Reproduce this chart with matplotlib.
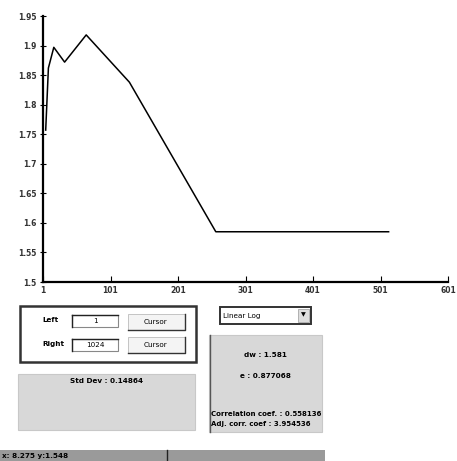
import matplotlib
matplotlib.use("Agg")
import matplotlib.pyplot as plt
from matplotlib.patches import Rectangle

# curve samples (x position, value)
xs = [5, 9, 17, 33, 65, 129, 257, 513]
ys = [1.757, 1.862, 1.897, 1.872, 1.918, 1.838, 1.585, 1.585]

xticks = [1, 101, 201, 301, 401, 501, 601]
yticks = [1.5, 1.55, 1.6, 1.65, 1.7, 1.75, 1.8, 1.85, 1.9, 1.95]
ytick_labels = ["1.5", "1.55", "1.6", "1.65", "1.7", "1.75", "1.8", "1.85", "1.9", "1.95"]

left_val = "1"
right_val = "1024"
std_text = "Std Dev : 0.14864"
scale_choice = "Linear Log"
dw_text = "dw : 1.581"
e_text = "e : 0.877068"
corr_text = "Correlation coef. : 0.558136"
adj_text = "Adj. corr. coef : 3.954536"
status_text = "x: 8.275 y:1.548"

W, H = 457, 461
fig = plt.figure(figsize=(W / 100, H / 100), dpi=100)
fig.patch.set_facecolor("white")

# plot area
ax = fig.add_axes([43 / W, (H - 282) / H, (448 - 43) / W, (282 - 16) / H])
ax.plot(xs, ys, color="black", lw=1.1)
ax.set_xlim(1, 601)
ax.set_ylim(1.5, 1.95)
ax.set_xticks(xticks)
ax.set_yticks(yticks)
ax.set_yticklabels(ytick_labels)
for s in ["top", "right"]:
    ax.spines[s].set_visible(False)
for s in ["left", "bottom"]:
    ax.spines[s].set_linewidth(1.6)
ax.tick_params(axis="x", direction="in", length=4, labelsize=5.5, pad=3)
ax.tick_params(axis="y", direction="inout", length=5, labelsize=5.5, pad=2)
for lab in ax.get_xticklabels() + ax.get_yticklabels():
    lab.set_fontweight("bold")
    lab.set_color("#333333")

# overlay in pixel coordinates for the controls
ov = fig.add_axes([0, 0, 1, 1])
ov.set_xlim(0, W)
ov.set_ylim(H, 0)
ov.axis("off")
ov.patch.set_alpha(0)

fs = 5.2

def box(x0, y0, x1, y1, **kw):
    ov.add_patch(Rectangle((x0, y0), x1 - x0, y1 - y0, **kw))

# cursor frame
box(20, 306, 196, 362, fill=False, ec="#333333", lw=1.8)
ov.text(42, 320, "Left", fontsize=fs, fontweight="bold", va="center")
ov.text(42, 344, "Right", fontsize=fs, fontweight="bold", va="center")
for yy, val in [(315, left_val), (339, right_val)]:
    box(72, yy, 118, yy + 12, fc="white", ec="#888888", lw=0.8)
    ov.plot([72, 118], [yy, yy], color="#222222", lw=1.0)
    ov.plot([72, 72], [yy, yy + 12], color="#222222", lw=1.0)
    ov.text(95, yy + 6, val, fontsize=fs, ha="center", va="center")
for yy in [314, 337]:
    box(128, yy, 185, yy + 16, fc="#f4f4f4", ec="#bbbbbb", lw=0.6)
    ov.plot([128, 185, 185], [yy + 16, yy + 16, yy], color="#333333", lw=1.0)
    ov.text(156, yy + 8, "Cursor", fontsize=fs, ha="center", va="center")

# std dev panel
box(18, 374, 195, 430, fc="#d8d8d8", ec="#c8c8c8", lw=0.8)
ov.text(106, 381, std_text, fontsize=fs, ha="center", va="center", fontweight="bold")

# scale dropdown
box(220, 307, 311, 324, fc="white", ec="#333333", lw=1.4)
ov.text(223, 315.5, scale_choice, fontsize=fs, va="center")
box(298, 309, 309, 322, fc="#dddddd", ec="#999999", lw=0.5)
ov.text(303.5, 315, "\u25bc", fontsize=4.5, ha="center", va="center")

# fit results panel
box(209, 335, 322, 432, fc="#d8d8d8", ec="#c8c8c8", lw=0.8)
ov.plot([210, 210], [335, 432], color="#555555", lw=1.0)
ov.text(265, 355, dw_text, fontsize=fs, ha="center", va="center", fontweight="bold")
ov.text(265, 376, e_text, fontsize=fs, ha="center", va="center", fontweight="bold")
ov.text(211, 414, corr_text, fontsize=5.0, va="center", fontweight="bold")
ov.text(211, 424, adj_text, fontsize=5.0, va="center", fontweight="bold")

# status bar
box(0, 450, 325, 461, fc="#9a9a9a", ec="none")
ov.plot([167, 167], [450, 461], color="#222222", lw=1.0)
ov.text(2, 455.5, status_text, fontsize=fs, va="center", fontweight="bold")

fig.savefig("out.png", dpi=100)
